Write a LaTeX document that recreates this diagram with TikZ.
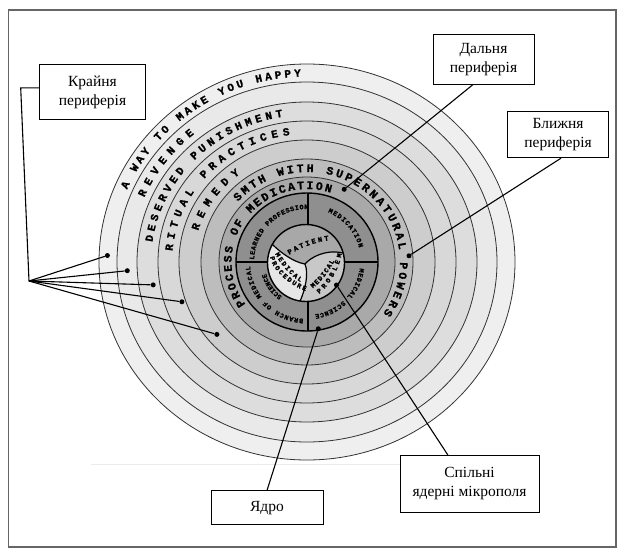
\documentclass[tikz,border=0pt]{standalone}
\usepackage{fontspec}
\setmainfont{Liberation Serif}
\newfontfamily\ringfont{Liberation Mono}[BoldFeatures={FakeBold=1.2}]
\usetikzlibrary{decorations.text}
\definecolor{gA}{HTML}{EFEFEF}
\definecolor{gB}{HTML}{E9E9E9}
\definecolor{gC}{HTML}{DDDDDD}
\definecolor{gD}{HTML}{D8D8D8}
\definecolor{gE}{HTML}{CDCDCD}
\definecolor{gF}{HTML}{BDBDBD}
\definecolor{gG}{HTML}{A9A9A9}
\definecolor{gQ}{HTML}{8F8F8F}
\definecolor{cPat}{HTML}{A8A8A8}
\definecolor{cProc}{HTML}{E6E6E6}
\definecolor{cProb}{HTML}{C8C8C8}
\begin{document}
\begin{tikzpicture}[x=1pt,y=1pt,
  ringline/.style={draw=black!80,line width=0.8pt},
  lbl/.style={draw=black,line width=0.8pt,fill=white,align=center,inner sep=0pt,font=\fontsize{15.5}{19}\selectfont},
  conn/.style={draw=black,line width=1.1pt},
  dot/.style={circle,fill=black,inner sep=0pt,minimum size=5pt},
  rtext/.style 2 args={decorate,decoration={text along path,text align=fit to path,text={|\ringfont\bfseries\fontsize{#1}{#1}\selectfont|#2}}},
  sector/.style={draw=black,line width=1.2pt}]
\useasboundingbox (0,0) rectangle (624,-555);
\draw[black!60,line width=1.2pt] (8.5,-10) rectangle (616,-547);
\draw[black!8,line width=0.8pt] (91,-464.6) -- (400,-464.6);

\begin{scope}[shift={(307,-262)}]
 \filldraw[ringline,fill=gA] (0,0) ellipse[x radius=208,y radius=198];
 \filldraw[ringline,fill=gB] (0,0) ellipse[x radius=190,y radius=180];
 \filldraw[ringline,fill=gC] (0,0) ellipse[x radius=170,y radius=160];
 \filldraw[ringline,fill=gD] (0,0) ellipse[x radius=149,y radius=141];
 \filldraw[ringline,fill=gE] (0,0) ellipse[x radius=128,y radius=122];
 \filldraw[ringline,fill=gF] (0,0) ellipse[x radius=106,y radius=103];
 \filldraw[ringline,fill=gG] (0,0) ellipse[x radius=88,y radius=85];
 \filldraw[draw=black,line width=1.4pt,fill=gQ] (0,0) ellipse[x radius=71,y radius=69];
 \draw[black,line width=1.3pt] (-71,0) -- (71,0) (1,69) -- (1,-69);
 % ring texts
 \path[rtext={11}{A WAY TO MAKE YOU HAPPY}] (157:195.5 and 185.5) arc[start angle=157,end angle=91.8,x radius=195.5,y radius=185.5];
 \path[rtext={11}{REVENGE}] (157.2:176.5 and 166.5) arc[start angle=157.2,end angle=129.7,x radius=176.5,y radius=166.5];
 \path[rtext={11}{DESERVED PUNISHMENT}] (172.2:156 and 147) arc[start angle=172.2,end angle=98.9,x radius=156,y radius=147];
 \path[rtext={11}{RITUAL PRACTICES}] (175.1:135 and 128) arc[start angle=175.1,end angle=97.3,x radius=135,y radius=128];
 \path[rtext={11}{REMEDY}] (163.4:113.5 and 109) arc[start angle=163.4,end angle=126.2,x radius=113.5,y radius=109];
 \path[rtext={11.5}{SMTH WITH SUPERNATURAL POWERS}] (138:93 and 90) arc[start angle=138,end angle=-35,x radius=93,y radius=90];
 \path[rtext={11.5}{PROCESS OF MEDICATION}] (215.4:75.5 and 73) arc[start angle=215.4,end angle=71.6,x radius=75.5,y radius=73];
 % quadrant texts
 \path[rtext={6.8}{LEARNED PROFESSION}] (177.5:53) arc[start angle=177.5,end angle=88.5,radius=53];
 \path[rtext={6.8}{MEDICATION}] (67.2:54) arc[start angle=67.2,end angle=15.2,radius=54];
 \path[rtext={6.8}{MEDICAL SCIENCE}] (-6.7:53) arc[start angle=-6.7,end angle=-81.5,radius=53];
 \path[rtext={6.8}{BRANCH OF MEDICAL}] (-93.6:57) arc[start angle=-93.6,end angle=-175.9,radius=57];
 \path[rtext={6.8}{SCIENCE}] (-125.7:42.5) arc[start angle=-125.7,end angle=-164.3,radius=42.5];
\end{scope}

% core
\fill[cProc] (306,-263) circle[radius=38.5];
\fill[cPat] (272.33,-244.33) arc[start angle=151,end angle=15,radius=38.5]
   .. controls (326,-249) and (311,-257) .. (305,-264)
   .. controls (293,-262) and (280,-252) .. (272.33,-244.33) -- cycle;
\fill[cProb] (305,-264) .. controls (311,-257) and (326,-249) .. (343.19,-253.04)
   arc[start angle=15,end angle=-98.8,radius=38.5]
   .. controls (305,-290) and (309,-274) .. (305,-264) -- cycle;
\draw[sector] (272.33,-244.33) .. controls (280,-252) and (293,-262) .. (305,-264);
\draw[sector] (305,-264) .. controls (311,-257) and (326,-249) .. (343.19,-253.04);
\draw[sector] (305,-264) .. controls (309,-274) and (305,-290) .. (300.1,-301.05);
\draw[black,line width=1.4pt] (306,-263) circle[radius=38.5];
\path[rtext={7.2}{PATIENT}] (289.3,-254.8) .. controls (300,-248) and (315,-242) .. (328.9,-240.4);
\path[rtext={6.8}{PROCEDURE}] (270,-257) .. controls (272,-269) and (287,-284) .. (305.5,-291);
\path[rtext={6.8}{MEDICAL}] (275,-254) .. controls (280,-263) and (289,-275) .. (300.5,-282);
\path[rtext={6.8}{PROBLEM}] (319.2,-293.9) .. controls (328,-287) and (339,-270) .. (341.8,-253.9);
\path[rtext={6.8}{MEDICAL}] (312.8,-288.3) .. controls (320,-283) and (329,-272) .. (334.5,-261);

% dots
\node[dot] (d1) at (107.4,-255.5) {};
\node[dot] (d2) at (127.3,-270.7) {};
\node[dot] (d3) at (153.2,-284.9) {};
\node[dot] (d4) at (181.9,-301.8) {};
\node[dot] (d5) at (216.9,-334.4) {};
\node[dot] (dD) at (344.2,-189.3) {};
\node[dot] (dB) at (409,-255.8) {};
\node[dot] (dY) at (318.3,-328.8) {};
\node[dot] (dS) at (336.5,-285) {};

% label boxes
\node[lbl,minimum width=105.4,minimum height=54.8] (kr) at (92.5,-92.2) {Крайня\\периферія};
\node[lbl,minimum width=101,minimum height=49.6] (dal) at (483.5,-59.1) {Дальня\\периферія};
\node[lbl,minimum width=101.4,minimum height=46] (bl) at (558.1,-134.8) {Ближня\\периферія};
\node[lbl,minimum width=139,minimum height=56.6] (sp) at (469.5,-483.7) {Спільні\\ядерні мікрополя};
\node[lbl,minimum width=112,minimum height=33.6] (ya) at (267,-507.6) {Ядро};

% connectors
\coordinate (kE) at (20.7,-87.8);
\coordinate (kF) at (29,-281);
\draw[conn] (kr.west |- kE) -- (kE) -- (kF);
\foreach \d in {d1,d2,d3,d4,d5} \draw[conn] (kF) -- (\d);
\draw[conn] (dal.-112) -- (dD);
\draw[conn] (bl.-83) -- (dB);
\draw[conn] (ya.north) -- (dY);
\draw[conn] (sp.127) -- (dS);
\end{tikzpicture}
\end{document}
